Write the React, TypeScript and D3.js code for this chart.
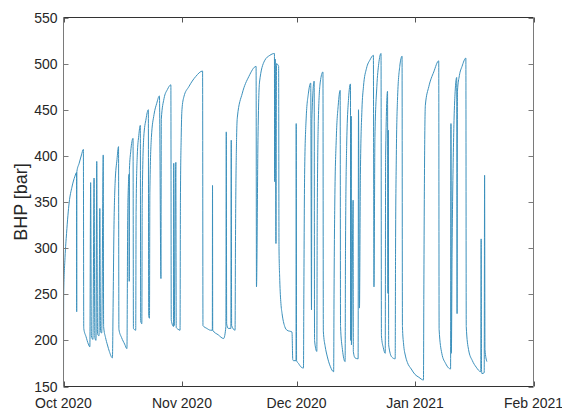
import React, { useRef, useEffect } from 'react';
import * as d3 from 'd3';

// days since 2020-10-01 and bottom hole pressure
const dayOffsets = [
  0, 0.05, 0.4, 0.8, 1.5, 2.2, 3.0, 3.4, 3.45, 3.5, 4.1, 4.7, 5.2,
  5.3, 5.9, 6.5, 6.9,
  7.1, 7.3, 7.7, 8.0, 8.2, 8.5, 8.7, 8.9, 9.3, 9.5, 9.7, 10.0, 10.4, 10.5,
  11.0, 11.5, 12.0, 12.8,
  13.0, 13.2, 13.5, 14.0, 14.4,
  14.5, 15.2, 16.0, 16.6,
  16.8, 17.0, 17.15, 17.2, 17.25, 17.6, 18.2,
  18.3, 18.9,
  19.0, 19.3, 19.7, 20.1,
  20.2, 20.5,
  20.6, 21.0, 21.6, 22.2,
  22.3, 22.5,
  22.6, 23.0, 23.7, 24.4, 25.1,
  25.5, 25.6, 26.3, 27.2, 28.1,
  28.2, 28.8, 28.85, 28.95, 29.4, 29.5, 30.0, 30.5,
  30.6, 30.8, 31.0, 31.5, 32.8, 34.6, 36.4,
  36.5, 37.5, 38.5, 38.95, 39.0, 39.05, 40.5, 41.9,
  42.5, 42.6, 42.7, 43.1, 43.8, 43.9, 44.0, 44.9,
  45.0, 45.3, 45.5, 46.8, 48.5, 50.4,
  50.5, 50.9, 51.3, 52.6, 54.0, 55.2,
  55.25, 55.4, 55.6, 55.75, 56.3,
  56.4, 56.6, 56.9, 57.2, 57.9, 58.5, 59.8,
  60.0, 60.2, 60.85, 60.9, 61.0, 61.5, 62.2, 62.8,
  62.9, 63.1, 63.5, 64.1, 64.7, 64.9, 65.0, 65.6,
  65.7, 66.3, 66.4, 66.7, 67.2, 67.9,
  68.0, 68.5, 69.0, 69.8, 70.7,
  70.8, 71.0, 71.4, 71.9, 72.4,
  72.5, 73.0, 73.7,
  73.8, 74.1, 74.6, 75.1,
  75.15, 75.3, 75.35, 75.8, 75.85, 76.3, 77.1, 77.2, 77.45,
  77.7, 78.1, 78.5, 79.3, 80.2, 81.1,
  81.15, 81.25, 81.5, 82.0, 82.5, 83.1,
  83.2, 83.7, 84.2, 84.3, 84.8, 84.9, 85.0, 85.1, 85.9, 86.8,
  86.9, 87.1, 87.4, 88.0, 88.6,
  88.7, 89.0, 89.5, 90.0, 91.0, 92.0, 93.0, 94.2,
  94.3, 94.5, 94.7, 95.6, 96.9, 98.2,
  98.3, 99.0, 100.0, 100.8, 101.3, 101.4, 101.5,
  101.7, 102.1, 102.5, 102.9, 103.0, 103.1, 103.6, 104.3, 105.3,
  105.4, 106.0, 107.0, 108.0, 109.2, 109.3, 109.4, 109.5, 110.1, 110.2, 110.3, 110.8,
];

const bhp = [
  152, 250, 290, 316, 350, 366, 378, 382, 231, 383, 392, 401, 407,
  213, 204, 196, 193,
  371, 205, 201, 376, 203, 200, 394, 207, 205, 343, 209, 208, 401, 215,
  203, 195, 188, 181,
  245, 320, 370, 396, 410,
  212, 203, 196, 191,
  330, 370, 380, 264, 385, 405, 419,
  213, 211,
  340, 400, 422, 433,
  221, 218,
  350, 420, 440, 450,
  226, 224,
  360, 420, 445, 457, 465,
  267, 440, 462, 472, 477,
  222, 215, 392, 216, 393, 214, 212, 211,
  352, 420, 450, 464, 475, 486, 492,
  216, 213, 211, 211, 368, 211, 206, 202,
  215, 426, 218, 213, 213, 417, 216, 211,
  300, 420, 442, 468, 486, 497,
  258, 420, 480, 503, 509, 511,
  372, 505, 305, 500, 497,
  300, 265, 240, 229, 215, 211, 209,
  179, 178, 178, 435, 178, 175, 171, 170,
  250, 380, 440, 468, 479, 233, 440, 481,
  200, 188, 330, 440, 480, 491,
  210, 193, 183, 172, 166,
  250, 350, 420, 455, 471,
  215, 190, 177,
  300, 410, 462, 478,
  200, 443, 195, 352, 188, 181, 180, 450, 235,
  380, 450, 475, 495, 504, 509,
  420, 258, 420, 475, 500, 511,
  205, 192, 186, 400, 470, 251, 428, 195, 182, 180,
  300, 400, 460, 497, 508,
  215, 196, 183, 176, 169, 163, 160, 157,
  250, 400, 455, 475, 491, 503,
  212, 186, 175, 170, 169, 435, 186,
  300, 420, 470, 485, 229, 470, 487, 497, 506,
  215, 190, 178, 171, 166, 310, 168, 164, 165, 379, 190, 177,
];

const yTicks = [150, 200, 250, 300, 350, 400, 450, 500, 550];
const xTickLabels = ['Oct 2020', 'Nov 2020', 'Dec 2020', 'Jan 2021', 'Feb 2021'];
const xTickDates = ['2020-10-01', '2020-11-01', '2020-12-01', '2021-01-01', '2021-02-01'];

function App() {
  const chartRef = useRef<SVGSVGElement>(null);

  useEffect(() => {
    const width = 562;
    const height = 412;
    const left = 63.5, right = 533.5, top = 17.5, bottom = 386.5;

    const svg = d3.select(chartRef.current);
    svg.selectAll('*').remove();
    svg.attr('width', width).attr('height', height).style('background', '#fff');

    const start = Date.UTC(2020, 9, 1);
    const data = dayOffsets.map((d, i) => ({ t: new Date(start + d * 86400000), v: bhp[i] }));

    const xScale = d3.scaleUtc()
      .domain([new Date(xTickDates[0]), new Date(xTickDates[xTickDates.length - 1])])
      .range([left, right]);

    const yScale = d3.scaleLinear()
      .domain([150, 550])
      .range([bottom, top]);

    const font = '"Liberation Sans", Arial, sans-serif';

    // the line
    const line = d3.line<{ t: Date; v: number }>()
      .x(d => xScale(d.t))
      .y(d => yScale(d.v))
      .curve(d3.curveMonotoneX);

    svg.append('path')
      .datum(data)
      .attr('d', line)
      .attr('fill', 'none')
      .attr('stroke', '#3b90bc')
      .attr('stroke-width', 1)
      .attr('stroke-linejoin', 'round');

    // box
    const g = svg.append('g');
    g.append('line').attr('x1', left).attr('x2', right).attr('y1', top).attr('y2', top)
      .attr('stroke', '#333');
    g.append('line').attr('x1', left).attr('x2', right).attr('y1', bottom).attr('y2', bottom)
      .attr('stroke', '#333');
    g.append('line').attr('x1', left).attr('x2', left).attr('y1', top).attr('y2', bottom)
      .attr('stroke', '#7a7a7a');
    g.append('line').attr('x1', right).attr('x2', right).attr('y1', top).attr('y2', bottom)
      .attr('stroke', '#7a7a7a');

    const tickLen = 5;

    // y ticks, inward on both sides
    yTicks.forEach(v => {
      const y = Math.round(yScale(v)) + 0.5;
      g.append('line').attr('x1', left).attr('x2', left + tickLen).attr('y1', y).attr('y2', y)
        .attr('stroke', '#7a7a7a');
      g.append('line').attr('x1', right - tickLen).attr('x2', right).attr('y1', y).attr('y2', y)
        .attr('stroke', '#7a7a7a');
      g.append('text')
        .attr('x', left - 6)
        .attr('y', yScale(v))
        .attr('dy', '0.36em')
        .attr('text-anchor', 'end')
        .attr('font-family', font)
        .attr('font-size', 14)
        .attr('fill', '#262626')
        .text(v);
    });

    // x ticks
    xTickDates.forEach((s, i) => {
      const x = Math.round(xScale(new Date(s))) + 0.5;
      g.append('line').attr('x1', x).attr('x2', x).attr('y1', bottom).attr('y2', bottom - tickLen)
        .attr('stroke', '#555');
      g.append('line').attr('x1', x).attr('x2', x).attr('y1', top).attr('y2', top + tickLen)
        .attr('stroke', '#555');
      g.append('text')
        .attr('x', xScale(new Date(s)))
        .attr('y', 408)
        .attr('text-anchor', 'middle')
        .attr('font-family', font)
        .attr('font-size', 14)
        .attr('fill', '#262626')
        .text(xTickLabels[i]);
    });

    // y label
    svg.append('text')
      .attr('transform', `translate(27,${(top + bottom) / 2}) rotate(-90)`)
      .attr('text-anchor', 'middle')
      .attr('font-family', font)
      .attr('font-size', 18)
      .attr('fill', '#262626')
      .text('BHP [bar]');
  }, []);

  return (
    <div style={{ position: 'fixed', left: 0, top: 0 }}>
      <svg ref={chartRef}></svg>
    </div>
  );
}

export default App;
